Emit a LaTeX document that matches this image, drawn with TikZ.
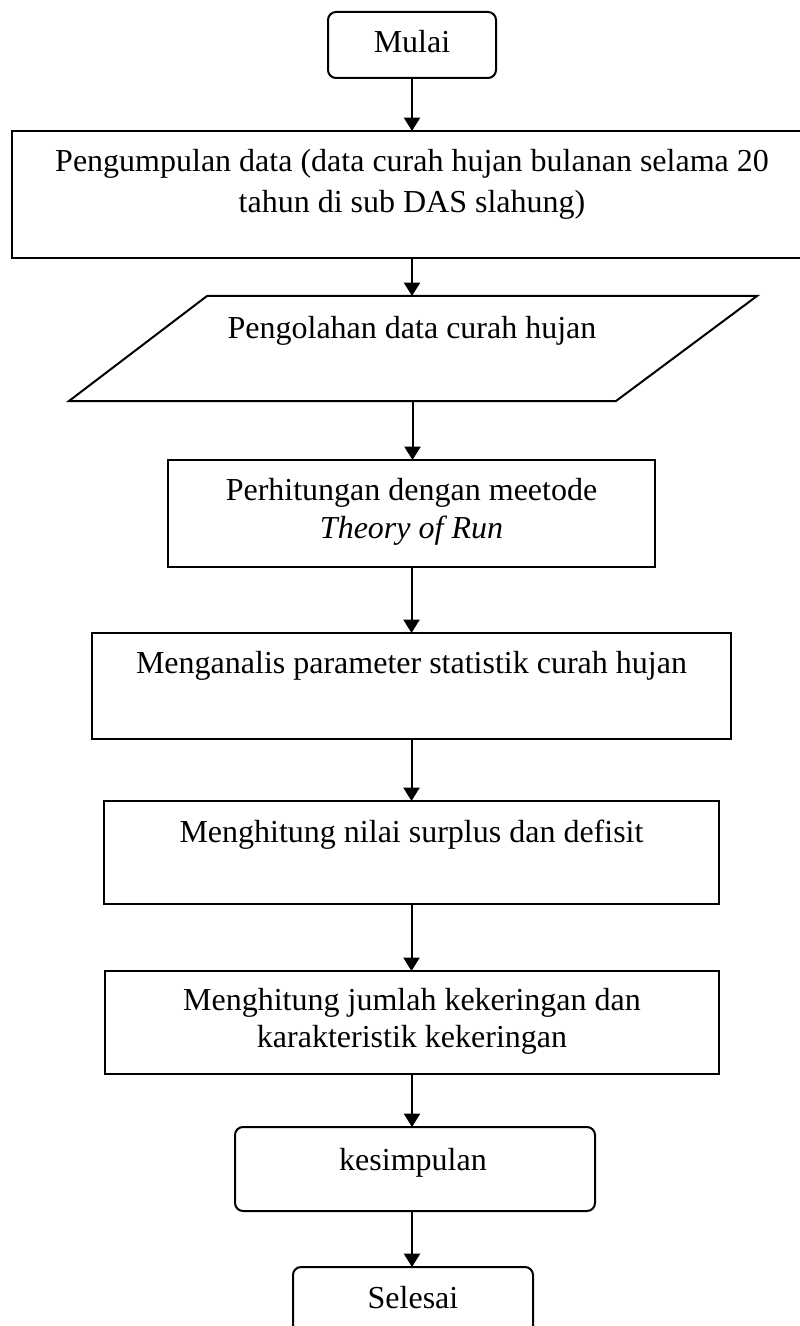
\documentclass[tikz,border=0pt]{standalone}
\usepackage{fontspec}
\setmainfont{Liberation Serif}
\usetikzlibrary{arrows.meta}
\begin{document}
\begin{tikzpicture}[x=0.375pt,y=-0.375pt,
  bx/.style 2 args={minimum width=#1*0.375pt, minimum height=#2*0.375pt, inner sep=0pt, outer sep=0pt},
  box/.style={draw, line width=0.75pt, rectangle},
  rbox/.style={draw, line width=0.75pt, rectangle, rounded corners=3pt},
  ghost/.style={draw=none, rectangle},
  txt/.style={anchor=base, inner sep=0pt, font=\fontsize{12}{14}\selectfont},
  arr/.style={line width=0.75pt, -{Triangle[length=5pt,width=6pt]}}]
\useasboundingbox (0,0) rectangle (799,1326);

% boxes
\node[rbox, bx={168}{66}] (mulai) at (412,45) {};
\node[box, bx={818}{127}] (b2) at (421,194.5) {};
\node[ghost, bx={550}{105}] (para) at (412.5,348.5) {};
\draw[line width=0.75pt, line join=miter] (69,401) -- (207,296) -- (757,296) -- (616,401) -- cycle;
\node[box, bx={487}{107}] (b4) at (411.5,513.5) {};
\node[box, bx={639}{106}] (b5) at (411.5,686) {};
\node[box, bx={615}{103}] (b6) at (411.5,852.5) {};
\node[box, bx={614}{103}] (b7) at (412,1022.5) {};
\node[rbox, bx={360}{84}] (kes) at (415,1169) {};
\node[rbox, bx={240}{83}] (sel) at (413,1308.5) {};

% texts
\node[txt] (t1) at (412,53) {Mulai};
\node[txt] (t2a) at (412,172) {Pengumpulan data (data curah hujan bulanan selama 20};
\node[txt] (t2b) at (412,213) {tahun di sub DAS slahung)};
\node[txt] (t3) at (412,338) {Pengolahan data curah hujan};
\node[txt] (t4a) at (411.5,500) {Perhitungan dengan meetode};
\node[txt] (t4b) at (411.5,538) {\textit{Theory of Run}};
\node[txt] (t5) at (411.5,673) {Menganalis parameter statistik curah hujan};
\node[txt] (t6) at (411.5,842) {Menghitung nilai surplus dan defisit};
\node[txt] (t7a) at (412,1010) {Menghitung jumlah kekeringan dan};
\node[txt] (t7b) at (412,1047) {karakteristik kekeringan};
\node[txt] (t8) at (413,1170) {kesimpulan};
\node[txt] (t9) at (413,1308) {Selesai};

% connectors
\draw[arr] (mulai.south) -- (mulai.south |- b2.north);
\draw[arr] (mulai.south |- b2.south) -- (mulai.south |- para.north);
\draw[arr] (para.south) -- (para.south |- b4.north);
\draw[arr] (b4.south) -- (b4.south |- b5.north);
\draw[arr] (b5.south) -- (b5.south |- b6.north);
\draw[arr] (b6.south) -- (b6.south |- b7.north);
\draw[arr] (b7.south) -- (b7.south |- kes.north);
\draw[arr] (b7.south |- kes.south) -- (b7.south |- sel.north);
\end{tikzpicture}
\end{document}
